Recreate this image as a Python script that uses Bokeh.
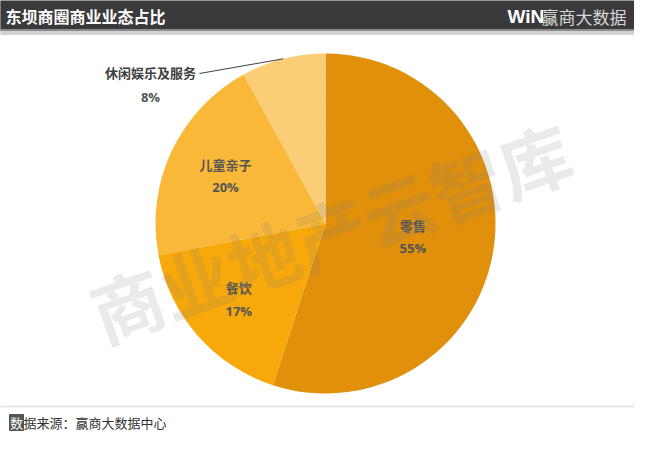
import math
from bokeh.plotting import figure
from bokeh.models import Range1d
from bokeh.core.properties import value
from bokeh.embed import file_html
from bokeh.resources import INLINE

# ---- data ----
title = "东坝商圈商业业态占比"
categories = ["零售", "餐饮", "儿童亲子", "休闲娱乐及服务"]
shares = [55, 17, 20, 8]
colors = ["#E0900B", "#F7A80A", "#F9B838", "#FBCD76"]
source_note_head = "数"
source_note_tail = "据来源：赢商大数据中心"
watermark = "商业地产云智库"
brand_mark = "WiN"
brand_name = "赢商大数据"

# ---- layout ----
FW, FH = 634, 435
FONT = value("Noto Sans CJK SC")


def Y(py):
    return FH - py


p = figure(width=FW, height=FH,
           x_range=Range1d(0, FW), y_range=Range1d(0, FH),
           output_backend="svg", toolbar_location=None,
           x_axis_location=None, y_axis_location=None, min_border=0)
p.grid.visible = False
p.outline_line_color = None
p.background_fill_color = "white"
p.border_fill_color = "white"

# header bar
p.quad(left=[0], right=[FW], bottom=[Y(29)], top=[Y(-5)], color="#3a393b")
p.quad(left=[0], right=[FW], bottom=[Y(31)], top=[Y(29)], color="#8c8c8c")
p.quad(left=[0], right=[FW], bottom=[Y(34)], top=[Y(31)], color="#d2d2d2")
p.text(x=[5], y=[Y(15)], text=[title], text_font=FONT, text_font_style="bold",
       text_font_size="16px", text_color="white", text_baseline="middle")
p.text(x=[507], y=[Y(16)], text=[brand_mark], text_font=value("Liberation Sans"),
       text_font_style="bold", text_font_size="19px", text_color="white",
       text_baseline="middle")
p.text(x=[541], y=[Y(16)], text=[brand_name], text_font=FONT,
       text_font_size="17px", text_color="#d8d8d8", text_baseline="middle")

# pie
cx, cy, r = 325, 223, 170
total = sum(shares)
starts, ends = [], []
acc = 0.0
for s in shares:
    t0 = acc / total * 360.0
    acc += s
    t1 = acc / total * 360.0
    starts.append(t0)
    ends.append(t1)

p.wedge(x=[cx] * len(shares), y=[Y(cy)] * len(shares), radius=r,
        start_angle=[math.radians(90 - t) for t in starts],
        end_angle=[math.radians(90 - t) for t in ends],
        direction="clock", fill_color=colors, line_color=None)

# labels inside
label_frac = [0.52, 0.68, 0.65]
for i in range(3):
    mid = math.radians((starts[i] + ends[i]) / 2)
    lx = cx + label_frac[i] * r * math.sin(mid)
    ly = cy - label_frac[i] * r * math.cos(mid)
    p.text(x=[lx], y=[Y(ly - 12)], text=[categories[i]], text_font=FONT,
           text_font_style="bold", text_font_size="13px", text_color="#555555",
           text_align="center", text_baseline="middle")
    p.text(x=[lx], y=[Y(ly + 11)], text=[f"{shares[i]}%"], text_font=value("Open Sans"),
           text_font_style="bold", text_font_size="13px", text_color="#555555",
           text_align="center", text_baseline="middle")

# outside label with leader
mid = math.radians((starts[3] + ends[3]) / 2)
ex = cx + r * math.sin(mid)
ey = cy - r * math.cos(mid)
p.line(x=[ex, 199], y=[Y(ey), Y(73)], line_color="#404040", line_width=1)
p.text(x=[150], y=[Y(72)], text=[categories[3]], text_font=FONT,
       text_font_style="bold", text_font_size="13px", text_color="#404040",
       text_align="center", text_baseline="middle")
p.text(x=[150], y=[Y(96)], text=[f"{shares[3]}%"], text_font=value("Open Sans"),
       text_font_style="bold", text_font_size="13px", text_color="#555555",
       text_align="center", text_baseline="middle")

# watermark
p.text(x=[330], y=[Y(230)], text=[watermark], text_font=FONT,
       text_font_style="bold", text_font_size="72px", text_color="#808080",
       text_alpha=0.17, angle=math.radians(19.5),
       text_align="center", text_baseline="middle")

# footer
p.line(x=[0, FW], y=[Y(406), Y(406)], line_color="#dddddd", line_width=1.5)
p.quad(left=[9], right=[23], bottom=[Y(430)], top=[Y(414)], color="#555555")
p.text(x=[9.5], y=[Y(422)], text=[source_note_head], text_font=FONT,
       text_font_size="13px", text_color="white", text_baseline="middle")
p.text(x=[23], y=[Y(422)], text=[source_note_tail], text_font=FONT,
       text_font_size="13px", text_color="#333333", text_baseline="middle")

open("out.html", "w").write(file_html(p, INLINE))
